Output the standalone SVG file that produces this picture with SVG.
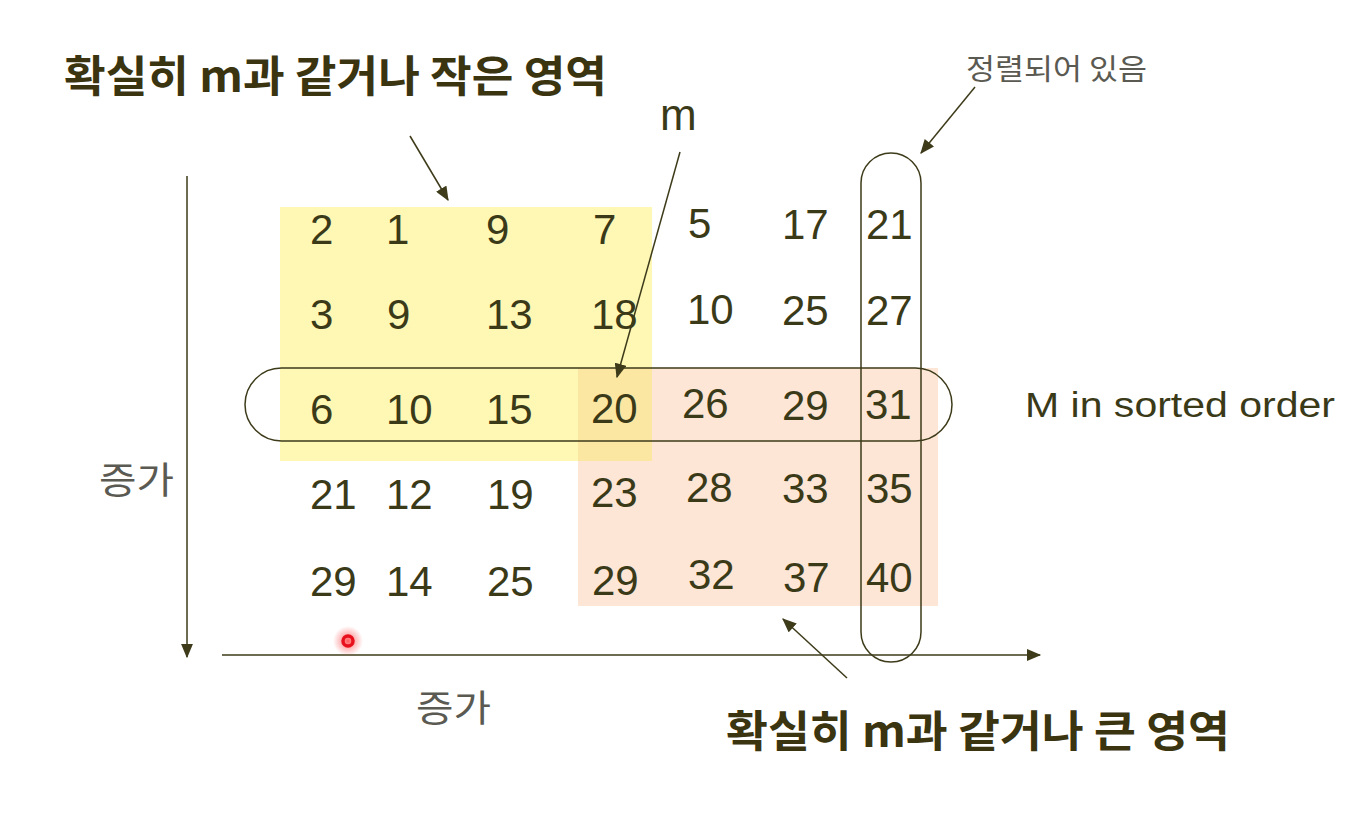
<svg xmlns="http://www.w3.org/2000/svg" width="1366" height="824" viewBox="0 0 1366 824">
<style>
  .num { font-family: "Liberation Sans", Arial, sans-serif; font-size: 42px; fill: #3b3a18; }
  .lbl { font-family: "Liberation Sans", Arial, sans-serif; fill: #3b3a18; }
  .ko { font-family: "Noto Sans CJK KR", "Noto Sans", sans-serif; }
  .title { font-weight: 700; font-size: 43px; fill: #3a3410; }
  .gray { fill: #5a5a52; }
  .ln { stroke: #3d3b1a; stroke-width: 1.5; fill: none; }
  .arr { stroke: #3d3b1a; stroke-width: 1.5; fill: none; marker-end: url(#ah); }
</style>
<defs>
  <marker id="ah" viewBox="0 0 12 10" refX="11" refY="5" markerWidth="15" markerHeight="12" markerUnits="userSpaceOnUse" orient="auto">
    <path d="M0,0 L12,5 L0,10 z" fill="#3d3b1a"/>
  </marker>
  <radialGradient id="glow">
    <stop offset="0" stop-color="#ff2020" stop-opacity="0.75"/>
    <stop offset="0.5" stop-color="#ff4040" stop-opacity="0.35"/>
    <stop offset="1" stop-color="#ff4040" stop-opacity="0"/>
  </radialGradient>
</defs>
<rect width="1366" height="824" fill="#ffffff"/>

<g id="region-large">
  <rect x="578" y="368" width="360" height="238" fill="#fde6d6"/>
</g>
<g id="region-small">
  <rect x="280" y="207" width="372" height="254" fill="#fff7b4"/>
  <rect x="578" y="368" width="74" height="93" fill="#fce7a2"/>
</g>

<g id="row-sorted">
  <rect class="ln" x="245" y="368" width="707" height="73" rx="36.5" ry="36.5"/>
</g>
<g id="col-sorted">
  <rect class="ln" x="861" y="153" width="60" height="509" rx="30" ry="30"/>
</g>

<g id="matrix">
  <text class="num" x="310" y="244">2</text>
  <text class="num" x="386" y="244">1</text>
  <text class="num" x="486" y="244">9</text>
  <text class="num" x="593" y="244">7</text>
  <text class="num" x="688" y="238">5</text>
  <text class="num" x="782" y="239">17</text>
  <text class="num" x="866" y="239">21</text>

  <text class="num" x="310" y="329">3</text>
  <text class="num" x="387" y="329">9</text>
  <text class="num" x="486" y="329">13</text>
  <text class="num" x="591" y="329">18</text>
  <text class="num" x="687" y="324">10</text>
  <text class="num" x="782" y="325">25</text>
  <text class="num" x="866" y="325">27</text>

  <text class="num" x="310" y="424">6</text>
  <text class="num" x="386" y="424">10</text>
  <text class="num" x="486" y="424">15</text>
  <text class="num" x="591" y="423">20</text>
  <text class="num" x="682" y="418">26</text>
  <text class="num" x="782" y="420">29</text>
  <text class="num" x="865" y="419">31</text>

  <text class="num" x="310" y="509">21</text>
  <text class="num" x="386" y="509">12</text>
  <text class="num" x="487" y="509">19</text>
  <text class="num" x="591" y="507">23</text>
  <text class="num" x="686" y="502">28</text>
  <text class="num" x="782" y="503">33</text>
  <text class="num" x="866" y="503">35</text>

  <text class="num" x="310" y="596">29</text>
  <text class="num" x="386" y="596">14</text>
  <text class="num" x="487" y="596">25</text>
  <text class="num" x="592" y="595">29</text>
  <text class="num" x="688" y="589">32</text>
  <text class="num" x="783" y="592">37</text>
  <text class="num" x="866" y="592">40</text>
</g>

<g id="label-small-title">
  <text class="ko title" x="64" y="92" textLength="543" lengthAdjust="spacingAndGlyphs">확실히 m과 같거나 작은 영역</text>
</g>
<g id="label-large-title">
  <text class="ko title" x="726" y="747" textLength="504" lengthAdjust="spacingAndGlyphs">확실히 m과 같거나 큰 영역</text>
</g>
<g id="label-m">
  <text class="lbl" x="660" y="130" font-size="44">m</text>
</g>
<g id="label-sorted">
  <text class="ko gray" x="966" y="80" font-size="29" textLength="181" lengthAdjust="spacingAndGlyphs">정렬되어 있음</text>
</g>
<g id="label-M">
  <text class="lbl" x="1025" y="417" font-size="35" textLength="310" lengthAdjust="spacingAndGlyphs">M in sorted order</text>
</g>
<g id="label-inc-left">
  <text class="ko gray" x="99" y="494" font-size="37" textLength="75" lengthAdjust="spacingAndGlyphs">증가</text>
</g>
<g id="label-inc-bottom">
  <text class="ko gray" x="416" y="722" font-size="37" textLength="75" lengthAdjust="spacingAndGlyphs">증가</text>
</g>

<g id="connectors">
  <line class="arr" x1="187" y1="176" x2="187" y2="657"/>
  <line class="arr" x1="222" y1="655" x2="1040" y2="655"/>
  <line class="arr" x1="410" y1="136" x2="448" y2="200"/>
  <line class="arr" x1="680" y1="152" x2="617" y2="377"/>
  <line class="arr" x1="975" y1="87" x2="921" y2="153"/>
  <line class="arr" x1="847" y1="678" x2="783" y2="619"/>
</g>

<g id="pointer">
  <circle cx="348" cy="641" r="15" fill="url(#glow)"/>
  <circle cx="348" cy="641" r="5" fill="none" stroke="#e8101c" stroke-width="3.5"/>
</g>
</svg>
